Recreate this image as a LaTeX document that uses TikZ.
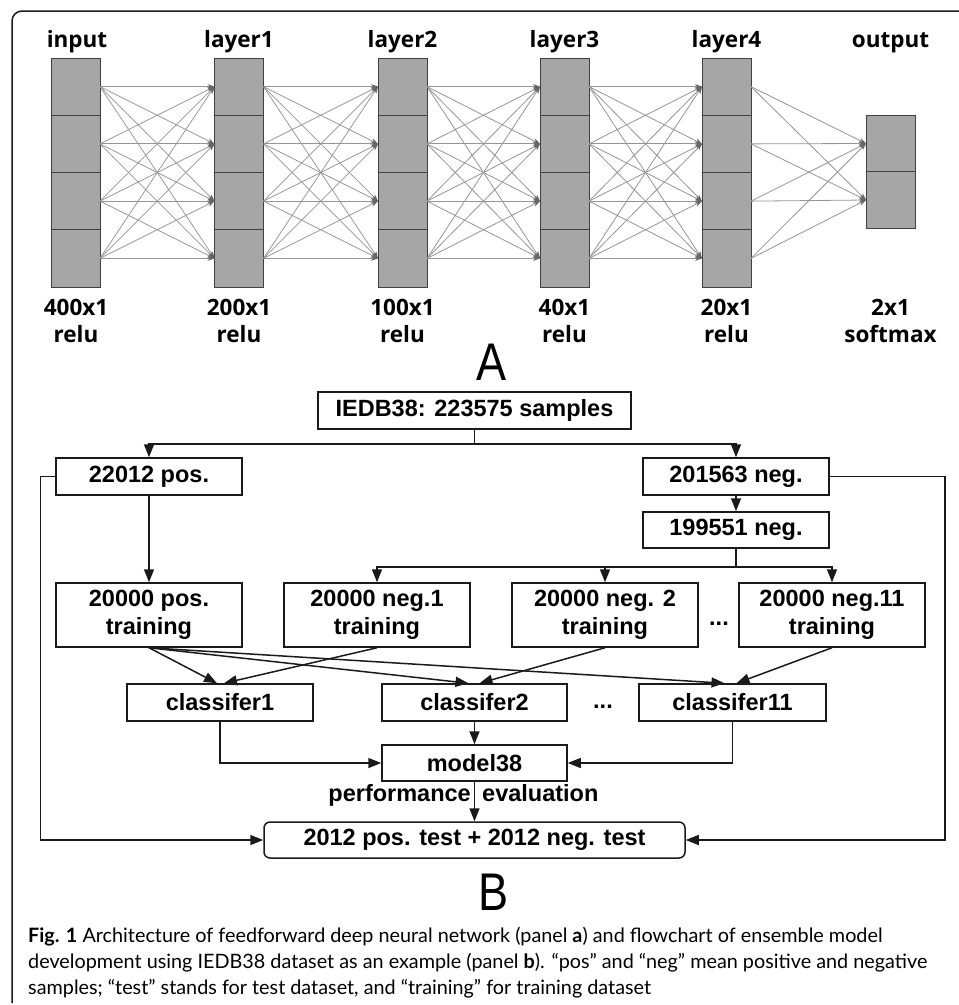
\documentclass[tikz,border=0pt]{standalone}
\usepackage{fontspec}
\newfontfamily\netfont{Open Sans}
\newfontfamily\flowfont{Liberation Sans}
\newfontfamily\capfont{Lato}
\usetikzlibrary{arrows.meta}
\definecolor{cellfill}{HTML}{A6A6A6}
\definecolor{cellline}{HTML}{404040}
\definecolor{wire}{HTML}{959595}
\definecolor{wiretip}{HTML}{666666}
\definecolor{ink}{HTML}{1A1A1A}
\begin{document}
\begin{tikzpicture}[x=1pt,y=-1pt,
  cell/.style={draw=cellline, line width=1pt, fill=cellfill, minimum width=49pt, minimum height=57.25pt, inner sep=0pt, outer sep=0pt},
  wirearr/.style={draw=wire, line width=0.8pt, -{Stealth[length=7pt,width=5pt,color=wiretip]}},
  netlbl/.style={font=\netfont\bfseries\fontsize{22.5}{26}\selectfont, inner sep=0pt, anchor=base},
  flowbox/.style={draw=ink, line width=1.5pt, inner sep=0pt, minimum height=37pt, align=center,
     font=\flowfont\bfseries\fontsize{23.5}{28}\selectfont},
  flowtxt/.style={inner sep=0pt, font=\flowfont\bfseries\fontsize{23.5}{28}\selectfont},
  arr/.style={draw=ink, line width=1.5pt, -{Triangle[length=13pt,width=10pt]}},
  panel/.style={inner sep=0pt, anchor=base, font=\flowfont\fontsize{53}{53}\selectfont},
  capf/.style={inner sep=0pt, anchor=base west, font=\capfont\fontsize{19.8}{24}\selectfont}
]
\useasboundingbox (0,0) rectangle (959,1005);
% frame
\draw[ink, line width=1.5pt, rounded corners=10pt] (12,1003) -- (12,11) -- (965,11);

% ---------- panel A ----------
\foreach \i/\x in {0/75.5,1/239,2/402.5,3/564.5,4/726.5}{
  \foreach \j in {1,...,4}{
    \node[cell] (L\i-\j) at (\x,{58+(\j-0.5)*57.25}) {};
  }
}
\node[cell, minimum height=56.5pt] (O-1) at (890.5,143.5) {};
\node[cell, minimum height=56.5pt] (O-2) at (890.5,200) {};

\foreach \i in {0,...,3}{
  \pgfmathtruncatemacro\k{\i+1}
  \foreach \a in {1,...,4}{
    \foreach \b in {1,...,4}{
      \draw[wirearr] (L\i-\a.east) -- (L\k-\b.west);
    }
  }
}
\foreach \a in {1,...,4}{
  \foreach \b in {1,2}{
    \draw[wirearr] (L4-\a.east) -- (O-\b.west);
  }
}

\node[netlbl] (h0) at (77,47) {input};
\node[netlbl] (h1) at (239,47) {layer1};
\node[netlbl] (h2) at (402.5,47) {layer2};
\node[netlbl] (h3) at (564.5,47) {layer3};
\node[netlbl] (h4) at (726.5,47) {layer4};
\node[netlbl] (h5) at (890.5,47) {output};

\node[netlbl] (s0) at (76,315) {400x1};
\node[netlbl] (s1) at (239,315) {200x1};
\node[netlbl] (s2) at (402.5,315) {100x1};
\node[netlbl] (s3) at (564.5,315) {40x1};
\node[netlbl] (s4) at (726.5,315) {20x1};
\node[netlbl] (s5) at (890.5,315) {2x1};
\node[netlbl] (a0) at (76,342) {relu};
\node[netlbl] (a1) at (239,342) {relu};
\node[netlbl] (a2) at (402.5,342) {relu};
\node[netlbl] (a3) at (564.5,342) {relu};
\node[netlbl] (a4) at (726.5,342) {relu};
\node[netlbl] (a5) at (890.5,342) {softmax};

\node[panel] (pA) at (492,380) {\scalebox{0.85}[1]{A}};

% ---------- panel B ----------
\node[flowbox, minimum width=313pt] (iedb) at (474.5,410.5) {IEDB38: 223575 samples};
\node[flowbox, minimum width=186pt] (pos) at (149,476.5) {22012 pos.};
\node[flowbox, minimum width=186pt] (neg) at (736,476.5) {201563 neg.};
\node[flowbox, minimum width=186pt, minimum height=36pt] (n199) at (736,530) {199551 neg.};
\node[flowbox, minimum width=186pt, minimum height=64pt] (post) at (149,615) {20000 pos.\\training};
\node[flowbox, minimum width=186pt, minimum height=64pt] (neg1) at (377,615) {20000 neg.1\\training};
\node[flowbox, minimum width=186pt, minimum height=64pt] (neg2) at (605,615) {20000 neg. 2\\training};
\node[flowbox, minimum width=186pt, minimum height=64pt] (neg11) at (832,615) {20000 neg.11\\training};
\node[flowtxt] (dots1) at (719,624) {...};
\node[flowbox, minimum width=186pt] (c1) at (220,702.5) {classifer1};
\node[flowbox, minimum width=185pt] (c2) at (474.5,702.5) {classifer2};
\node[flowbox, minimum width=187pt] (c11) at (732.5,702.5) {classifer11};
\node[flowtxt] (dots2) at (603,707) {...};
\node[flowbox, minimum width=185pt, minimum height=36pt] (model) at (474.5,763) {model38};
\node[flowbox, minimum width=421pt, minimum height=36pt, rounded corners=6pt] (test) at (474.5,840) {2012 pos. test + 2012 neg. test};
\node[flowtxt, anchor=base east] (perf) at (471,801) {performance};
\node[flowtxt, anchor=base west] (eval) at (482,801) {evaluation};

\draw[arr] (iedb.south) -- ++(0,14) -| (pos.north);
\draw[arr] (iedb.south) -- ++(0,14) -| (neg.north);
\draw[arr] (neg.south) -- (n199.north);
\draw[arr] (pos.south) -- (post.north);
\draw[arr] (n199.south) -- ++(0,18) -| (neg1.north);
\draw[arr] (n199.south) -- ++(0,18) -| (neg2.north);
\draw[arr] (n199.south) -- ++(0,18) -| (neg11.north);

\draw[arr] (post.south) -- ([xshift=-3pt]c1.north);
\draw[arr] (post.south) -- ([xshift=-6pt]c2.north);
\draw[arr] (post.south) -- ([xshift=-8pt]c11.north);
\draw[arr] (neg1.south) -- ([xshift=4pt]c1.north);
\draw[arr] (neg2.south) -- ([xshift=5pt]c2.north);
\draw[arr] (neg11.south) -- ([xshift=4pt]c11.north);

\draw[arr] (c1.south) |- (model.west);
\draw[arr] (c2.south) -- (model.north);
\draw[arr] (c11.south) |- (model.east);
\draw[arr] (model.south) -- (test.north);
\draw[arr] (pos.west) -- ++(-15,0) |- (test.west);
\draw[arr] (neg.east) -- ++(115,0) |- (test.east);

\node[panel] (pB) at (494,910) {\scalebox{0.85}[1]{B}};

% caption
\node[capf] (cap1) at (28,942) {{\bfseries Fig. 1} Architecture of feedforward deep neural network (panel {\bfseries a}) and flowchart of ensemble model};
\node[capf] (cap2) at (28,968) {development using IEDB38 dataset as an example (panel {\bfseries b}). “pos” and “neg” mean positive and negative};
\node[capf] (cap3) at (28,994) {samples; “test” stands for test dataset, and “training” for training dataset};
\end{tikzpicture}
\end{document}
